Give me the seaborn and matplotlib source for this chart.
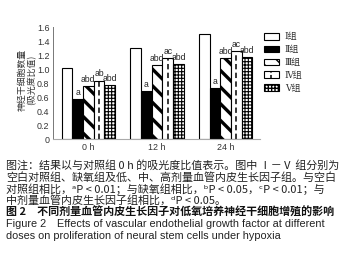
import matplotlib
matplotlib.use("Agg")
import matplotlib.pyplot as plt
import seaborn as sns
import pandas as pd
from matplotlib.patches import Rectangle, Patch
from matplotlib.lines import Line2D
from matplotlib.legend_handler import HandlerBase

# ---- data ----
times = ["0 h", "12 h", "24 h"]
groups = ["Ⅰ组", "Ⅱ组", "Ⅲ组", "Ⅳ组", "Ⅴ组"]
g1 = [1.02, 1.30, 1.51]
g2 = [0.575, 0.69, 0.73]
g3 = [0.757, 1.055, 1.155]
g4 = [0.84, 1.155, 1.26]
g5 = [0.77, 1.075, 1.17]
sig1 = ["", "", ""]
sig2 = ["a", "a", "a"]
sig3 = ["abd", "abd", "abd"]
sig4 = ["ab", "ac", "ac"]
sig5 = ["abd", "abd", "abd"]
yticks = [0, 0.2, 0.4, 0.6, 0.8, 1.0, 1.2, 1.4, 1.6]
ytick_labels = ["0", "0.2", "0.4", "0.6", "0.8", "1.0", "1.2", "1.4", "1.6"]
ylabel1 = "神经干细胞数量"
ylabel2 = "(吸光度比值)"
caption = [
    "图注：结果以与对照组 0 h 的吸光度比值表示。图中 Ⅰ－Ⅴ 组分别为",
    "空白对照组、缺氧组及低、中、高剂量血管内皮生长因子组。与空白",
    "对照组相比，ᵃP < 0.01；与缺氧组相比，ᵇP < 0.05，ᶜP < 0.01；与",
    "中剂量血管内皮生长因子组相比，ᵈP < 0.05。",
]
title_cn = "图 2　不同剂量血管内皮生长因子对低氧培养神经干细胞增殖的影响"
title_en = [
    "Figure 2　Effects of vascular endothelial growth factor at different",
    "doses on proliferation of neural stem cells under hypoxia",
]

values = [g1, g2, g3, g4, g5]
sigs = [sig1, sig2, sig3, sig4, sig5]
rows = []
for g, vals in zip(groups, values):
    for t, v in zip(times, vals):
        rows.append({"time": t, "group": g, "value": v})
df = pd.DataFrame(rows)

sns.set_style("white")
plt.rcParams["font.family"] = ["Liberation Sans", "Noto Sans CJK SC", "DejaVu Sans"]

W, H = 341, 279
fig = plt.figure(figsize=(W / 100, H / 100), dpi=100)


def fx(x):
    return x / W


def fy(y):
    return 1 - y / H


ax = fig.add_axes([fx(53), fy(139.3), (260 - 53) / W, (139.3 - 27.3) / H])
sns.barplot(data=df, x="time", y="value", hue="group", ax=ax,
            palette=["white", "black", "white", "white", "white"],
            saturation=1, edgecolor="black", linewidth=0.8, width=0.78,
            gap=0, legend=False, errorbar=None)

hatches = [None, None, r"\\", None, "+++++"]
hlw = [None, None, 2.4, None, 0.8]
for cont, h, lw in zip(ax.containers, hatches, hlw):
    if h:
        for p in cont.patches:
            p.set_hatch(h)
            if hasattr(p, "set_hatch_linewidth"):
                p.set_hatch_linewidth(lw)

# dashed centre line for group IV
for p in ax.containers[3].patches:
    cx = p.get_x() + p.get_width() / 2
    ax.plot([cx, cx], [0, p.get_height()], color="black", lw=1.1,
            ls=(0, (3.5, 2.2)), solid_capstyle="butt", dash_capstyle="butt")

# significance labels
for cont, sg in zip(ax.containers, sigs):
    for p, s in zip(cont.patches, sg):
        if s:
            ax.annotate(s, (p.get_x() + p.get_width() / 2, p.get_height()),
                        xytext=(0, 1.5), textcoords="offset points",
                        ha="center", va="bottom", fontsize=6.2, color="#222222")

ax.set_xlim(-0.515, 2.5)
ax.set_ylim(0, 1.6)
ax.set_yticks(yticks)
ax.set_yticklabels(ytick_labels)
ax.set_xlabel("")
ax.set_ylabel("")
ax.tick_params(axis="y", direction="in", length=2, width=0.6, pad=2.5,
               labelsize=6.4, labelcolor="#333333", color="#555555")
ax.tick_params(axis="x", length=0, pad=2.5, labelsize=6.4, labelcolor="#333333")
for s in ["top", "right"]:
    ax.spines[s].set_visible(False)
ax.spines["left"].set_color("#777777")
ax.spines["left"].set_linewidth(0.7)
ax.spines["bottom"].set_color("#aaaaaa")
ax.spines["bottom"].set_linewidth(0.8)

# y label (two rotated lines)
cjk = ["Noto Sans CJK SC", "DejaVu Sans"]
fig.text(fx(22.5), fy(80), ylabel1, rotation=90, ha="center", va="center",
         fontsize=6.4, color="#333333", family=cjk, linespacing=1.0)
fig.text(fx(32), fy(80), ylabel2, rotation=90, ha="center", va="center",
         fontsize=6.4, color="#333333", family=cjk, linespacing=1.0)


# legend
class DashHandler(HandlerBase):
    def create_artists(self, legend, orig, xd, yd, width, height, fontsize, trans):
        r = Rectangle((-xd, -yd), width, height, facecolor="white",
                      edgecolor="black", lw=0.8, transform=trans)
        cx = -xd + width / 2
        ln = Line2D([cx, cx], [-yd, -yd + height], color="black", lw=1.1,
                    ls=(0, (2, 1.5)), transform=trans)
        return [r, ln]


handles = []
for i, cont in enumerate(ax.containers):
    p = cont.patches[0]
    hp = Patch(facecolor=p.get_facecolor(), edgecolor="black", lw=0.8,
               hatch=hatches[i])
    handles.append(hp)
leg = fig.legend(handles, groups, loc="upper left",
                 bbox_to_anchor=(fx(263.5), fy(32.5)), bbox_transform=fig.transFigure,
                 frameon=False, handlelength=1.75, handleheight=0.75,
                 handletextpad=0.6, labelspacing=0.42, borderpad=0, borderaxespad=0,
                 handler_map={handles[3]: DashHandler()},
                 prop={"family": ["DejaVu Serif", "Noto Sans CJK SC"], "size": 6.5})
for t in leg.get_texts():
    t.set_color("#333333")

# caption
ys = [165.7, 177.3, 189, 200.7]
for line, y in zip(caption, ys):
    fig.text(fx(6), fy(y), line, ha="left", va="center", fontsize=7.95,
             family=cjk, color="#222222")
fig.text(fx(6), fy(212.7), title_cn, ha="left", va="center", fontsize=7.95,
         family=cjk, weight="bold", color="#111111")
en_font = ["Liberation Sans", "Noto Sans CJK SC", "DejaVu Sans"]
fig.text(fx(6), fy(224.3), title_en[0], ha="left", va="center", fontsize=7.8,
         family=en_font, color="#222222")
fig.text(fx(6), fy(236), title_en[1], ha="left", va="center", fontsize=7.8,
         family=en_font, color="#222222")

fig.savefig("out.png", dpi=100)
